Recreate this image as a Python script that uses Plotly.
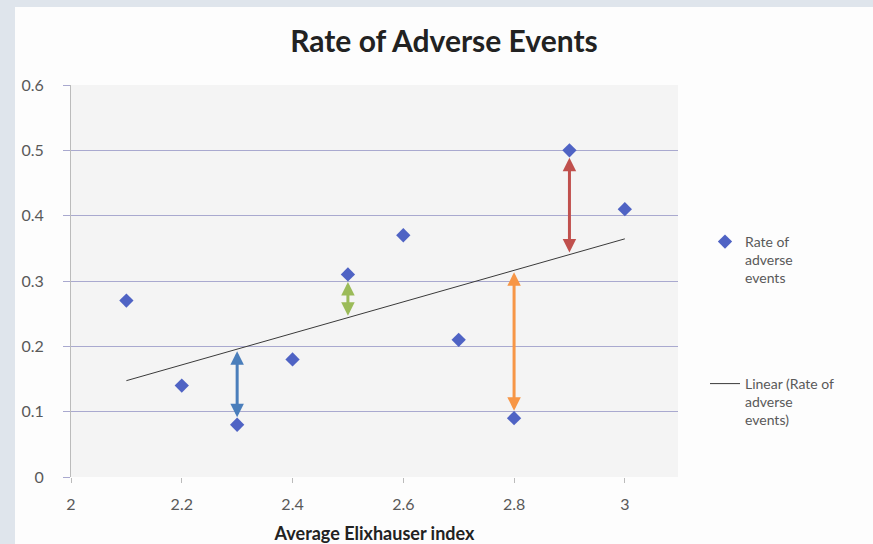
import numpy as np
import plotly.graph_objects as go

# ---- data ----
elix_index = [2.1, 2.2, 2.3, 2.4, 2.5, 2.6, 2.7, 2.8, 2.9, 3.0]
adverse_rate = [0.27, 0.14, 0.08, 0.18, 0.31, 0.37, 0.21, 0.09, 0.50, 0.41]

# residual arrows (x positions of highlighted points) and colours
residual_x = [2.3, 2.5, 2.8, 2.9]
residual_colors = ["#4a7ebb", "#9bbb59", "#f79646", "#c0504d"]

x_ticks = [2, 2.2, 2.4, 2.6, 2.8, 3]
x_tick_text = ["2", "2.2", "2.4", "2.6", "2.8", "3"]
y_ticks = [0, 0.1, 0.2, 0.3, 0.4, 0.5, 0.6]
y_tick_text = ["0", "0.1", "0.2", "0.3", "0.4", "0.5", "0.6"]

# ---- linear trend (least squares, as Excel) ----
slope, intercept = np.polyfit(elix_index, adverse_rate, 1)
trend_x = [min(elix_index), max(elix_index)]
trend_y = [slope * v + intercept for v in trend_x]

FONT = "Lato"
GREY_TXT = "#595959"
PAGE_GREY = "#dfe5ec"
CARD = "#fdfdfd"

fig = go.Figure()

fig.add_trace(go.Scatter(
    x=elix_index, y=adverse_rate, mode="markers",
    name="Rate of<br>adverse<br>events",
    marker=dict(symbol="diamond", size=11, color="#4f63c4"),
    legend="legend",
))
fig.add_trace(go.Scatter(
    x=trend_x, y=trend_y, mode="lines",
    name="Linear (Rate of<br>adverse<br>events)",
    line=dict(color="#3a3a3a", width=1),
    legend="legend2",
))

# residual arrows from each highlighted point to the trend line
lookup = dict(zip(elix_index, adverse_rate))
for xv, col in zip(residual_x, residual_colors):
    yp = lookup[xv]
    yt = slope * xv + intercept
    fig.add_annotation(
        x=xv, y=yt, ax=xv, ay=yp,
        xref="x", yref="y", axref="x", ayref="y",
        showarrow=True, arrowside="end+start",
        arrowhead=2, startarrowhead=2, arrowsize=0.9, startarrowsize=0.9,
        arrowwidth=3, arrowcolor=col,
        standoff=2, startstandoff=6, text="",
    )

L, R, T, B = 71, 195, 85, 67
W, H = 873, 544
pw, ph = W - L - R, H - T - B
def px(xp):
    return (xp - L) / pw
def py(yp):
    return (H - B - yp) / ph

# blue-grey page strips on the left and top of the white chart card
fig.add_shape(type="rect", xref="paper", yref="paper",
              x0=px(0), x1=px(15), y0=py(560), y1=py(0),
              fillcolor=PAGE_GREY, line=dict(width=0), layer="below")
fig.add_shape(type="rect", xref="paper", yref="paper",
              x0=px(0), x1=px(890), y0=py(7), y1=py(0),
              fillcolor=PAGE_GREY, line=dict(width=0), layer="below")
fig.add_shape(type="rect", xref="paper", yref="paper",
              x0=0, x1=1, y0=0, y1=1,
              fillcolor="#f4f4f4", line=dict(width=0), layer="below")

fig.update_layout(
    width=W, height=H,
    margin=dict(l=L, r=R, t=T, b=B, pad=0),
    paper_bgcolor=CARD,
    plot_bgcolor="rgba(0,0,0,0)",
    font=dict(family=FONT, color=GREY_TXT),
    title=dict(text="<b>Rate of Adverse Events</b>", x=px(444), xanchor="center",
               y=1 - 41 / H, yanchor="middle", xref="paper",
               font=dict(family=FONT, size=30, color="#222222")),
    showlegend=True,
    legend=dict(x=px(705), y=py(226), xanchor="left", yanchor="top",
                bgcolor="rgba(0,0,0,0)", font=dict(size=14, color=GREY_TXT),
                valign="top", itemwidth=30),
    legend2=dict(x=px(705), y=py(368), xanchor="left", yanchor="top",
                 bgcolor="rgba(0,0,0,0)", font=dict(size=14, color=GREY_TXT),
                 valign="top", itemwidth=30),
    xaxis=dict(range=[2, 3.096], tickvals=x_ticks, ticktext=x_tick_text,
               showgrid=False, zeroline=False, showline=False, automargin=False,
               ticks="outside", ticklen=5, tickcolor="#bbbbbb",
               tickfont=dict(size=16, color=GREY_TXT), ticklabelstandoff=8,
               title=dict(text="<b>Average Elixhauser index</b>", standoff=19,
                          font=dict(size=18, color="#222222"))),
    yaxis=dict(range=[0, 0.6], tickvals=y_ticks, ticktext=y_tick_text,
               showgrid=True, gridcolor="#a9a9cf", gridwidth=1.3, automargin=False,
               zeroline=False, showline=True, linecolor="#bbbbbb",
               ticks="outside", ticklen=7, tickcolor="#a9a9cf",
               tickfont=dict(size=16, color=GREY_TXT), ticklabelstandoff=16),
)

fig.write_html(
    "out.html",
    config={"displayModeBar": False},
    post_script="document.body.style.margin='0';document.body.style.background='#fdfdfd';",
)
